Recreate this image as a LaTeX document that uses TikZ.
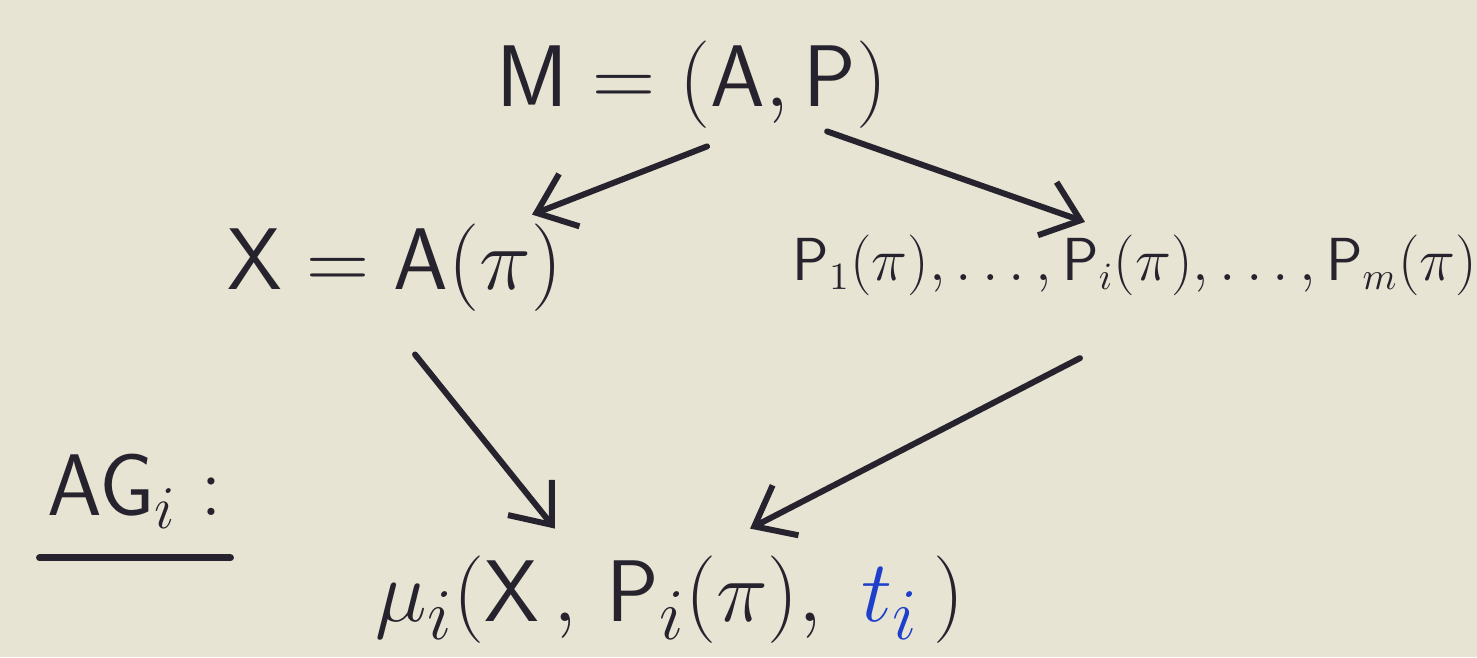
\documentclass[tikz,border=0pt]{standalone}
\usepackage{amsmath}
\usetikzlibrary{arrows.meta}

\definecolor{paper}{HTML}{E8E4D3}
\definecolor{ink}{HTML}{26232E}
\definecolor{tblue}{HTML}{1D3FCB}

\begin{document}
\begin{tikzpicture}[x=0.01cm, y=-0.01cm,
        term/.style={text=ink, inner sep=2pt},
        arrow/.style={-{Straight Barb[length=10pt, width=16pt]}, line width=1.7pt,
                      draw=ink, line cap=round},
    ]
    % Hintergrund
    \fill[paper] (0,0) rectangle (1477,657);
    \useasboundingbox (0,0) rectangle (1477,657);

    % Modell (oben)
    \node[term, font=\fontsize{38}{44}\selectfont] (model) at (692,85)
        {$\mathsf{M}=(\mathsf{A},\mathsf{P})$};

    % Aktionen (links)
    \node[term, font=\fontsize{24}{28}\selectfont] (act) at (395,268)
        {$\mathsf{X}=\mathsf{A}(\pi)$};

    % Praeferenzen (rechts)
    \node[term, font=\fontsize{16}{20}\selectfont] (pref) at (1135,265)
        {$\mathsf{P}_1(\pi),\ldots,\mathsf{P}_i(\pi),\ldots,\mathsf{P}_m(\pi)$};

    % Agent
    \node[term, font=\fontsize{26}{30}\selectfont] (agent) at (135,492)
        {$\mathsf{AG}_i:$};
    \draw[ink, line width=2pt, line cap=round]
        ([yshift=-6pt]agent.south west) -- ([yshift=-6pt]agent.south east);

    % Entscheidung (unten)
    \node[term, font=\fontsize{31}{35}\selectfont] (mu) at (670,600)
        {$\mu_i(\mathsf{X}\,,\,\mathsf{P}_i(\pi),\;\textcolor{tblue}{t_i}\,)$};

    % Pfeile
    \draw[arrow] ([xshift=0.15cm, yshift=-0.1cm]model.south)
        -- ([xshift=-0.38cm, yshift=0.02cm]act.north east);
    \draw[arrow] ([xshift=1.35cm, yshift=0.05cm]model.south)
        -- ([xshift=-0.5cm, yshift=0.05cm]pref.north);
    \draw[arrow] ([xshift=0.2cm, yshift=-0.35cm]act.south)
        -- ([xshift=-1.15cm, yshift=0.2cm]mu.north);
    \draw[arrow] ([xshift=-0.55cm, yshift=-0.55cm]pref.south)
        -- ([xshift=0.8cm, yshift=0.2cm]mu.north);

\end{tikzpicture}
\end{document}
